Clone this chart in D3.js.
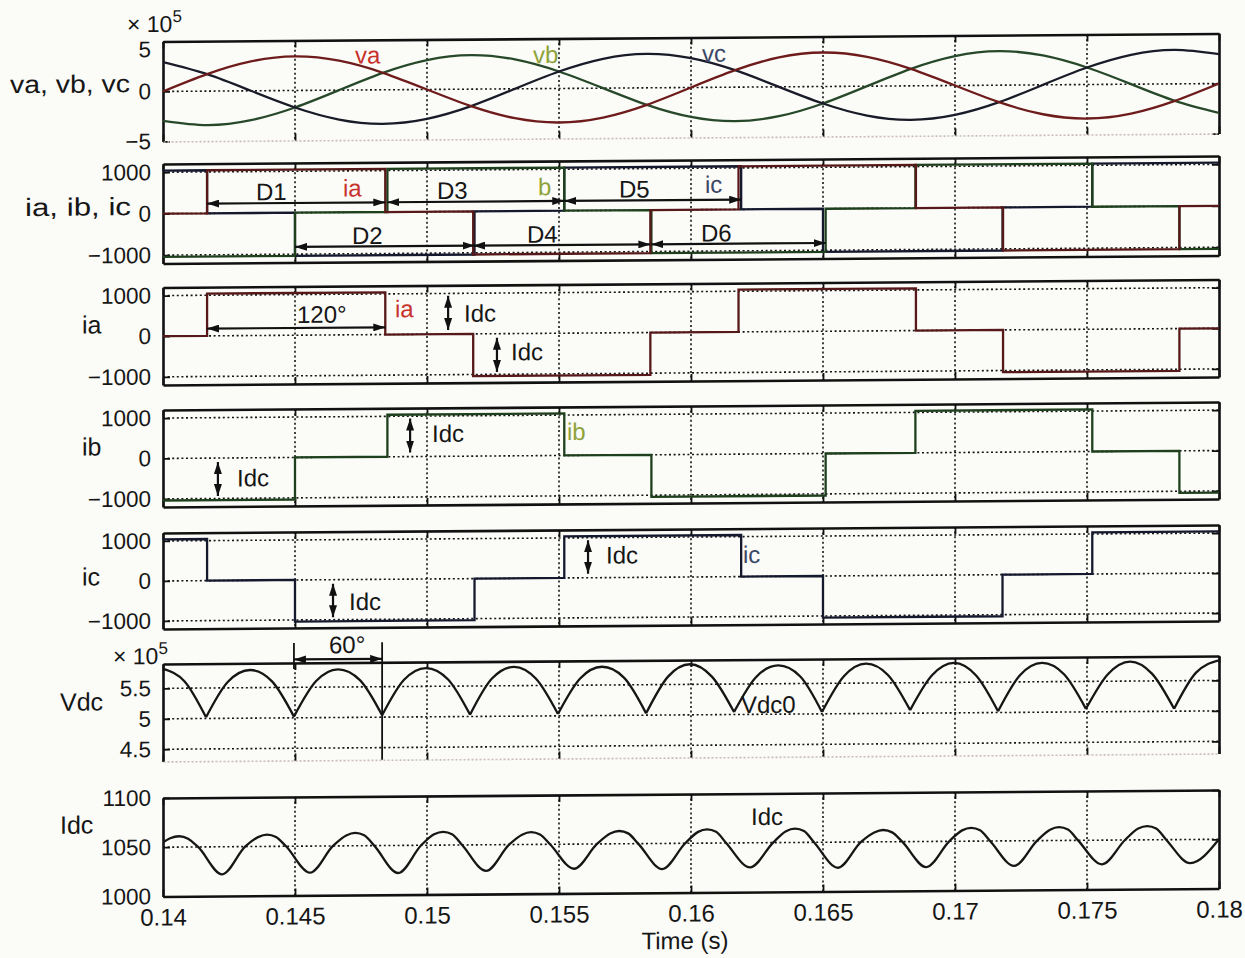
<!DOCTYPE html>
<html>
<head>
<meta charset="utf-8">
<script src="https://cdn.jsdelivr.net/npm/d3@7"></script>
<style>
  body { margin: 0; background: #fbfbf8; }
  svg text { font-family: "Liberation Sans", Arial, Helvetica, sans-serif; fill: #161616; }
</style>
</head>
<body>
<svg id="chart" width="1245" height="958"></svg>
<script>
// ---------- time axis ----------
const timeDomain = [0.14, 0.18];
const timeTicks = [0.14, 0.145, 0.15, 0.155, 0.16, 0.165, 0.17, 0.175, 0.18];
const timeTickLabels = ["0.14", "0.145", "0.15", "0.155", "0.16", "0.165", "0.17", "0.175", "0.18"];

// ---------- AC phase voltages (x10^5 V), every 30 electrical degrees ----------
const vT = [0.14, 0.14167, 0.14333, 0.145, 0.14667, 0.14833, 0.15, 0.15167, 0.15333, 0.155, 0.15667, 0.15833,
            0.16, 0.16167, 0.16333, 0.165, 0.16667, 0.16833, 0.17, 0.17167, 0.17333, 0.175, 0.17667, 0.17833, 0.18];
const va = [0, 1.7, 2.94, 3.4, 2.94, 1.7, 0, -1.7, -2.94, -3.4, -2.94, -1.7,
            0, 1.7, 2.94, 3.4, 2.94, 1.7, 0, -1.7, -2.94, -3.4, -2.94, -1.7, 0];
const vb = [-2.94, -3.4, -2.94, -1.7, 0, 1.7, 2.94, 3.4, 2.94, 1.7, 0, -1.7,
            -2.94, -3.4, -2.94, -1.7, 0, 1.7, 2.94, 3.4, 2.94, 1.7, 0, -1.7, -2.94];
const vc = [2.94, 1.7, 0, -1.7, -2.94, -3.4, -2.94, -1.7, 0, 1.7, 2.94, 3.4,
            2.94, 1.7, 0, -1.7, -2.94, -3.4, -2.94, -1.7, 0, 1.7, 2.94, 3.4, 2.94];

// ---------- phase currents (A): switching instants and the level held after each ----------
const iaT = [0.14, 0.14167, 0.14842, 0.15175, 0.15846, 0.1618, 0.16852, 0.17182, 0.1785];
const iaLevel = [0, 1040, 0, -1040, 0, 1040, 0, -1040, 0];
const ibT = [0.14, 0.145, 0.1485, 0.1552, 0.1585, 0.1651, 0.1685, 0.1752, 0.1785];
const ibLevel = [-1040, 0, 1040, 0, -1040, 0, 1040, 0, -1040];
const icT = [0.14, 0.14167, 0.145, 0.1518, 0.1552, 0.1619, 0.165, 0.1718, 0.1752];
const icLevel = [1040, 0, -1040, 0, 1040, 0, -1040, 0, 1040];

// ---------- DC voltage (x10^5 V): peaks, mid-slopes and commutation notches ----------
const vdcT = [0.14, 0.14082, 0.14163, 0.14246, 0.1433, 0.14413, 0.14496, 0.1458, 0.14663, 0.14746,
              0.1483, 0.14913, 0.14996, 0.1508, 0.15163, 0.15246, 0.1533, 0.15413, 0.15496, 0.1558,
              0.15663, 0.15746, 0.1583, 0.15913, 0.15996, 0.1608, 0.16163, 0.16246, 0.1633, 0.16413,
              0.16496, 0.1658, 0.16663, 0.16746, 0.1683, 0.16913, 0.16996, 0.1708, 0.17163, 0.17246,
              0.1733, 0.17413, 0.17496, 0.1758, 0.17663, 0.17746, 0.1783, 0.17913, 0.18];
const vdcV = [5.82, 5.61, 5.02, 5.6, 5.79, 5.6, 5.02, 5.6, 5.79, 5.61,
              5.03, 5.61, 5.8, 5.61, 5.03, 5.62, 5.81, 5.61, 5.03, 5.61,
              5.8, 5.62, 5.03, 5.63, 5.83, 5.62, 5.04, 5.61, 5.8, 5.62,
              5.03, 5.62, 5.82, 5.63, 5.05, 5.62, 5.82, 5.61, 5.02, 5.61,
              5.81, 5.62, 5.05, 5.62, 5.82, 5.62, 5.04, 5.63, 5.83];
const vdcNotchIdx = [2, 6, 10, 14, 18, 22, 26, 30, 34, 38, 42, 46];

// ---------- DC current (A) ----------
const idcT = [0.14, 0.14027, 0.14061, 0.14095, 0.14133, 0.14224, 0.14311,
              0.14360, 0.14394, 0.14428, 0.14466, 0.14557, 0.14644,
              0.14694, 0.14728, 0.14762, 0.148, 0.14891, 0.14978,
              0.15027, 0.15061, 0.15095, 0.15133, 0.15224, 0.15311,
              0.15360, 0.15394, 0.15428, 0.15466, 0.15557, 0.15644,
              0.15694, 0.15728, 0.15762, 0.158, 0.15891, 0.15978,
              0.16027, 0.16061, 0.16095, 0.16133, 0.16224, 0.16311,
              0.16360, 0.16394, 0.16428, 0.16466, 0.16557, 0.16644,
              0.16694, 0.16728, 0.16762, 0.168, 0.16891, 0.16978,
              0.17027, 0.17061, 0.17095, 0.17133, 0.17224, 0.17311,
              0.17360, 0.17394, 0.17428, 0.17466, 0.17557, 0.17644,
              0.17694, 0.17728, 0.17762, 0.178, 0.17891, 0.18];
const idcV = [1055, 1059, 1061, 1058.5, 1050, 1022, 1050,
              1059.5, 1062, 1059.5, 1050, 1023, 1050,
              1060.5, 1063, 1060.5, 1050, 1022, 1050,
              1061, 1063.5, 1061, 1050, 1023.5, 1050,
              1060, 1062.5, 1060, 1050, 1025, 1050,
              1060.5, 1063, 1060.5, 1050, 1024, 1050,
              1061.5, 1064, 1061.5, 1050, 1025, 1050,
              1061.5, 1064, 1061.5, 1050, 1024, 1050,
              1059.5, 1062, 1059.5, 1050, 1024, 1050,
              1061, 1063.5, 1061, 1050, 1024.5, 1050,
              1061, 1063.5, 1061, 1050, 1025.5, 1050,
              1061.5, 1064, 1061.5, 1050, 1026, 1050];

// ---------- layout ----------
const xLeft = 163, xRight = 1219;
const x = d3.scaleLinear().domain(timeDomain).range([xLeft, xRight]);
const minus = d => (d < 0 ? "\u2212" + Math.abs(d) : String(d));

const panels = [
  { id: "vabc", top: 37.5, bottom: 137.5, domain: [-5, 5], ticks: [-5, 0, 5], faintBottom: true,
    topLabelShift: 8, label: "va, vb, vc", labelX: 10, labelY: 88, labelLen: 120 },
  { id: "iabc", top: 160, bottom: 259.5, domain: [-1200, 1200], ticks: [-1000, 0, 1000],
    label: "ia, ib, ic", labelX: 25, labelY: 211, labelLen: 106 },
  { id: "ia", top: 283.5, bottom: 381, domain: [-1200, 1200], ticks: [-1000, 0, 1000],
    label: "ia", labelX: 82, labelY: 329 },
  { id: "ib", top: 406, bottom: 503, domain: [-1200, 1200], ticks: [-1000, 0, 1000],
    label: "ib", labelX: 82, labelY: 451 },
  { id: "ic", top: 529, bottom: 625, domain: [-1200, 1200], ticks: [-1000, 0, 1000],
    label: "ic", labelX: 82, labelY: 581 },
  { id: "vdc", top: 660, bottom: 757.5, domain: [4.3, 5.9], ticks: [4.5, 5, 5.5], faintBottom: true,
    label: "Vdc", labelX: 60, labelY: 706 },
  { id: "idc", top: 794, bottom: 892.5, domain: [1000, 1100], ticks: [1000, 1050, 1100],
    label: "Idc", labelX: 60, labelY: 829, xLabels: true }
];

const col = {
  va: "#6e1b1b", vb: "#27492a", vc: "#191b28",
  ia: "#561818", ib: "#1f401d", ic: "#15192e",
  red: "#c8322c", green: "#8fa23a", blue: "#3a4766"
};

const svg = d3.select("#chart");
const defs = svg.append("defs");
defs.append("marker").attr("id", "head")
  .attr("viewBox", "0 0 12 8").attr("refX", 12).attr("refY", 4)
  .attr("markerWidth", 12).attr("markerHeight", 8)
  .attr("markerUnits", "userSpaceOnUse").attr("orient", "auto-start-reverse")
  .append("path").attr("d", "M0,0 L12,4 L0,8 Z").attr("fill", "#111");

// the printed page sits slightly tilted
const root = svg.append("g").attr("transform", "translate(690,0) skewY(-0.43) translate(-690,0)");

const byId = {};
panels.forEach(p => {
  const y = d3.scaleLinear().domain(p.domain).range([p.bottom, p.top]);
  p.y = y;
  byId[p.id] = p;
  const g = root.append("g").attr("class", "panel-" + p.id);

  defs.append("clipPath").attr("id", "clip-" + p.id)
    .append("rect").attr("x", xLeft).attr("y", p.top - 1)
    .attr("width", xRight - xLeft).attr("height", p.bottom - p.top + 2);

  // dotted grid
  g.append("g").selectAll("line").data(timeTicks.slice(1, -1)).join("line")
    .attr("x1", d => x(d)).attr("x2", d => x(d)).attr("y1", p.top).attr("y2", p.bottom)
    .attr("stroke", "#151515").attr("stroke-width", 1.6).attr("stroke-dasharray", "2,2.6");
  g.append("g").selectAll("line").data(p.ticks.filter(v => v > p.domain[0] && v < p.domain[1])).join("line")
    .attr("x1", xLeft).attr("x2", xRight).attr("y1", d => y(d)).attr("y2", d => y(d))
    .attr("stroke", "#151515").attr("stroke-width", 1.6).attr("stroke-dasharray", "2,2.6");

  // axes with inward ticks
  const left = g.append("g").attr("transform", `translate(${xLeft},0)`)
    .call(d3.axisLeft(y).tickValues(p.ticks).tickFormat(minus).tickSize(-7).tickSizeOuter(0).tickPadding(12));
  const right = g.append("g").attr("transform", `translate(${xRight},0)`)
    .call(d3.axisRight(y).tickValues(p.ticks).tickFormat("").tickSize(-7).tickSizeOuter(0));
  const top = g.append("g").attr("transform", `translate(0,${p.top})`)
    .call(d3.axisTop(x).tickValues(timeTicks).tickFormat("").tickSize(-7).tickSizeOuter(0));
  const bottom = g.append("g").attr("transform", `translate(0,${p.bottom})`)
    .call(d3.axisBottom(x).tickValues(timeTicks)
      .tickFormat((d, i) => (p.xLabels ? timeTickLabels[i] : ""))
      .tickSize(-7).tickSizeOuter(0).tickPadding(12));

  [left, right, top, bottom].forEach(a => {
    a.selectAll(".tick line").attr("stroke", "#111").attr("stroke-width", 1.8);
    a.select(".domain").attr("stroke", "#111").attr("stroke-width", 2.6);
    a.selectAll("text").attr("font-size", 22.5).attr("fill", "#161616")
      .attr("font-family", '"Liberation Sans", Arial, sans-serif');
  });
  if (p.topLabelShift) {
    left.selectAll(".tick").filter(d => d === p.domain[1]).select("text").attr("y", p.topLabelShift);
  }
  if (p.faintBottom) {
    bottom.select(".domain").attr("stroke", "#c9bcbc").attr("stroke-width", 1.6).attr("stroke-dasharray", "2,2");
  }
  if (p.xLabels) bottom.selectAll("text").attr("font-size", 24);

  const lab = g.append("text").attr("x", p.labelX).attr("y", p.labelY)
    .attr("font-size", 25).text(p.label);
  if (p.labelLen) lab.attr("textLength", p.labelLen).attr("lengthAdjust", "spacingAndGlyphs");

  p.plot = g.append("g").attr("clip-path", `url(#clip-${p.id})`);
});

// x10^5 multipliers
function multiplier(xp, yp) {
  const t = root.append("text").attr("x", xp).attr("y", yp).attr("font-size", 23);
  t.append("tspan").text("\u00d7 10");
  t.append("tspan").attr("dy", -10).attr("font-size", 17).text("5");
}
multiplier(127, 28);
multiplier(113, 660);

root.append("text").attr("x", x(0.16) - 6).attr("y", 949).attr("text-anchor", "middle")
  .attr("font-size", 24).text("Time (s)");

// ---------- signals ----------
const sine = d3.line().x(d => x(d[0])).y(d => d[1]).curve(d3.curveNatural);
function drawSine(p, vals, color) {
  p.plot.append("path").datum(vT.map((t, i) => [t, p.y(vals[i])]))
    .attr("d", sine).attr("fill", "none").attr("stroke", color).attr("stroke-width", 2.3);
}
drawSine(byId.vabc, vb, col.vb);
drawSine(byId.vabc, vc, col.vc);
drawSine(byId.vabc, va, col.va);

const stepLine = d3.line().x(d => x(d[0])).y(d => d[1]).curve(d3.curveStepAfter);
function drawStep(p, ts, levels, color) {
  const pts = ts.map((t, i) => [t, p.y(levels[i])]);
  pts.push([timeDomain[1], p.y(levels[levels.length - 1])]);
  p.plot.append("path").datum(pts).attr("d", stepLine)
    .attr("fill", "none").attr("stroke", color).attr("stroke-width", 2.3);
}
drawStep(byId.iabc, icT, icLevel, col.ic);
drawStep(byId.iabc, ibT, ibLevel, col.ib);
drawStep(byId.iabc, iaT, iaLevel, col.ia);
drawStep(byId.ia, iaT, iaLevel, col.ia);
drawStep(byId.ib, ibT, ibLevel, col.ib);
drawStep(byId.ic, icT, icLevel, col.ic);

// rectified DC voltage: one smooth arc between consecutive notches
const arc = d3.line().x(d => x(d[0])).y(d => byId.vdc.y(d[1])).curve(d3.curveMonotoneX);
const cuts = [0, ...vdcNotchIdx, vdcT.length - 1];
for (let k = 0; k < cuts.length - 1; k++) {
  const seg = [];
  for (let i = cuts[k]; i <= cuts[k + 1]; i++) seg.push([vdcT[i], vdcV[i]]);
  byId.vdc.plot.append("path").datum(seg).attr("d", arc)
    .attr("fill", "none").attr("stroke", "#161616").attr("stroke-width", 2.3);
}

const idcLine = d3.line().x(d => x(d[0])).y(d => byId.idc.y(d[1])).curve(d3.curveMonotoneX);
byId.idc.plot.append("path").datum(idcT.map((t, i) => [t, idcV[i]])).attr("d", idcLine)
  .attr("fill", "none").attr("stroke", "#161616").attr("stroke-width", 2.3);

// ---------- annotations ----------
function hArrow(t0, t1, yp) {
  root.append("line").attr("x1", x(t0)).attr("x2", x(t1)).attr("y1", yp).attr("y2", yp)
    .attr("stroke", "#111").attr("stroke-width", 2.2)
    .attr("marker-start", "url(#head)").attr("marker-end", "url(#head)");
}
function vArrow(p, t, v0, v1) {
  const y0 = p.y(v0), y1 = p.y(v1), s = Math.sign(y1 - y0);
  root.append("line").attr("x1", x(t)).attr("x2", x(t))
    .attr("y1", y0 + 4 * s).attr("y2", y1 - 4 * s)
    .attr("stroke", "#111").attr("stroke-width", 2.2)
    .attr("marker-start", "url(#head)").attr("marker-end", "url(#head)");
}
function note(txt, xp, yp, color, size) {
  root.append("text").attr("x", xp).attr("y", yp).attr("font-size", size || 24)
    .attr("fill", color || "#161616").style("fill", color || "#161616").text(txt);
}

// diode conduction intervals
hArrow(iaT[1], iaT[2], 200);   // D1
hArrow(icT[2], icT[3], 244);   // D2
hArrow(ibT[2], ibT[3], 200);   // D3
hArrow(iaT[3], iaT[4], 244);   // D4
hArrow(icT[4], icT[5], 200);   // D5
hArrow(ibT[4], ibT[5], 244);   // D6
note("D1", 256, 197); note("D3", 437, 197); note("D5", 619, 197);
note("D2", 352, 241.5); note("D4", 527, 241.5); note("D6", 701, 241.5);
note("ia", 343, 194, col.red); note("b", 538, 194, col.green); note("ic", 705, 193, col.blue);

// va, vb, vc tags
note("va", 355, 61, col.red); note("vb", 533, 62, col.green); note("vc", 702, 62, col.blue);

// ia panel
hArrow(iaT[1], iaT[2], 325);
note("120\u00b0", 297, 320);
note("ia", 395, 315, col.red);
vArrow(byId.ia, 0.1508, 1040, 0);   note("Idc", 464, 320);
vArrow(byId.ia, 0.15265, 0, -1040); note("Idc", 511, 359);

// ib panel
vArrow(byId.ib, 0.14208, 0, -1040); note("Idc", 237, 483);
vArrow(byId.ib, 0.14936, 1040, 0);  note("Idc", 432, 440);
note("ib", 567, 439, col.green);

// ic panel
vArrow(byId.ic, 0.14644, 0, -1040); note("Idc", 349, 607.5);
vArrow(byId.ic, 0.1561, 1040, 0);   note("Idc", 606, 563);
note("ic", 743, 563.5, col.blue);

// 60 degree interval between two DC-voltage notches
const n1 = vdcT[vdcNotchIdx[1]], n2 = vdcT[vdcNotchIdx[2]];
root.append("line").attr("x1", x(n1)).attr("x2", x(n1)).attr("y1", 640).attr("y2", 666)
  .attr("stroke", "#111").attr("stroke-width", 1.8);
root.append("line").attr("x1", x(n2)).attr("x2", x(n2)).attr("y1", 640).attr("y2", byId.vdc.bottom)
  .attr("stroke", "#111").attr("stroke-width", 1.8);
hArrow(n1, n2, 656.5);
note("60\u00b0", 329, 650.5);
note("Vdc0", 741, 713.5);

note("Idc", 751, 825.5);
</script>
</body>
</html>
